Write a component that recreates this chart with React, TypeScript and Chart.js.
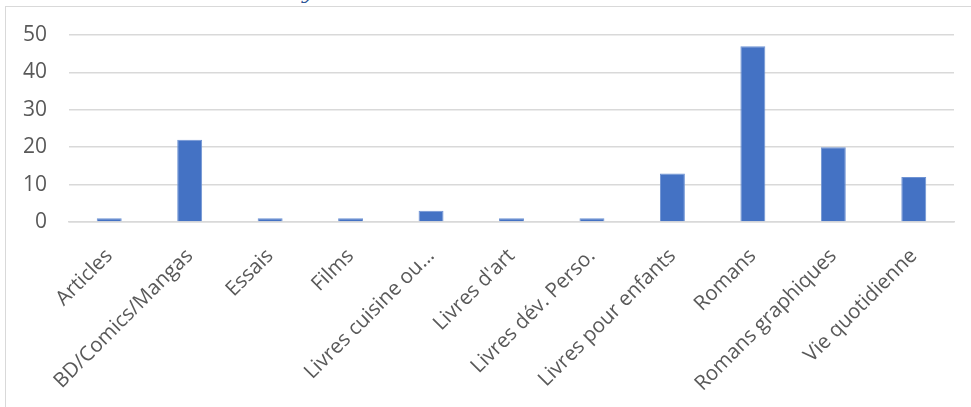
import React, { useEffect, useRef } from "react";
import { Chart, registerables } from "chart.js";

Chart.register(...registerables);

const categories = [
  "Articles",
  "BD/Comics/Mangas",
  "Essais",
  "Films",
  "Livres cuisine ou…",
  "Livres d'art",
  "Livres dév. Perso.",
  "Livres pour enfants",
  "Romans",
  "Romans graphiques",
  "Vie quotidienne",
];
const counts = [1, 22, 1, 1, 3, 1, 1, 13, 47, 20, 12];
const yMax = 50;
const yStep = 10;

const FONT = "'Open Sans', 'Noto Sans', sans-serif";

export default function App() {
  const ref = useRef<HTMLCanvasElement | null>(null);
  useEffect(() => {
    if (!ref.current) return;
    const chart = new Chart(ref.current, {
      type: "bar",
      data: {
        labels: categories,
        datasets: [
          {
            data: counts,
            backgroundColor: "#4472C4",
            borderColor: "#6f93d3",
            borderWidth: 1,
            categoryPercentage: 1,
            barPercentage: 0.31,
          },
        ],
      },
      options: {
        animation: false,
        responsive: false,
        maintainAspectRatio: false,
        layout: { padding: { top: 35, right: 17, left: 0, bottom: 0 } },
        plugins: { legend: { display: false }, tooltip: { enabled: false }, title: { display: false } },
        scales: {
          x: {
            grid: { display: false, drawTicks: false },
            border: { display: true, color: "#d9d9d9", width: 1.5 },
            ticks: {
              color: "#595959",
              font: { family: FONT, size: 20.5 },
              maxRotation: 45,
              minRotation: 45,
              autoSkip: false,
              padding: 22,
            },
            afterFit: (s: any) => {
              s.height = 185;
            },
          },
          y: {
            min: 0,
            max: yMax,
            grid: { color: "#d9d9d9", lineWidth: 1.5, drawTicks: false },
            border: { display: false },
            ticks: {
              stepSize: yStep,
              color: "#595959",
              font: { family: FONT, size: 21 },
              padding: 22,
            },
            afterFit: (s: any) => {
              s.width = 69;
            },
          },
        },
      },
    });
    return () => chart.destroy();
  }, []);

  return (
    <div style={{ position: "fixed", left: 0, top: 0, width: 971, height: 407, overflow: "hidden", background: "#fff" }}>
      <span
        style={{
          position: "absolute",
          left: 302,
          top: -18,
          fontFamily: "'DejaVu Serif', serif",
          fontStyle: "italic",
          fontSize: 20,
          lineHeight: "20px",
          color: "#2F5496",
        }}
      >
        y
      </span>
      <div
        style={{
          position: "absolute",
          left: 5,
          top: 6,
          width: 1000,
          height: 420,
          border: "1.5px solid #d9d9d9",
          boxSizing: "border-box",
        }}
      />
      <canvas ref={ref} width={971} height={407} style={{ position: "absolute", left: 0, top: 0, width: 971, height: 407 }} />
    </div>
  );
}
